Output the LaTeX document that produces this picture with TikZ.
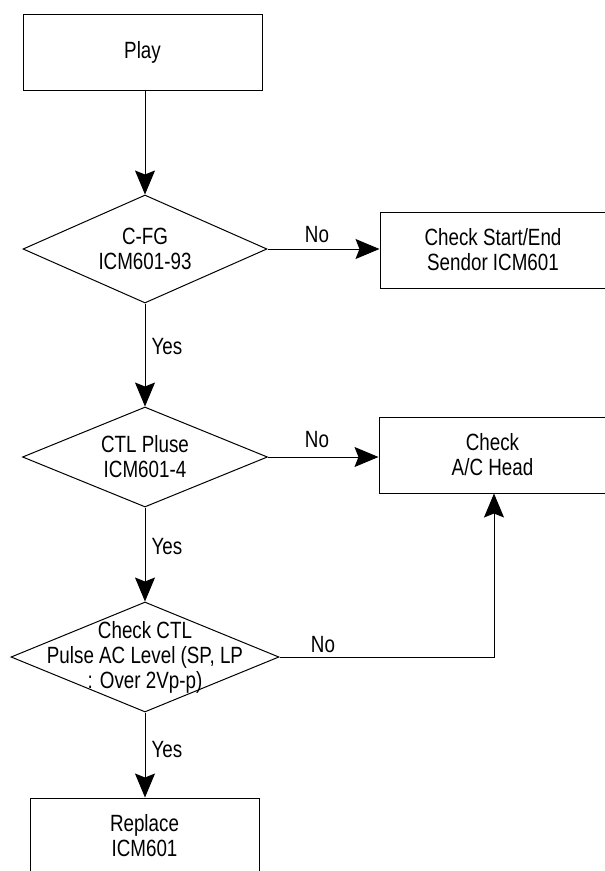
\documentclass[tikz,border=0pt]{standalone}
\usepackage{fontspec}
\setmainfont{Liberation Sans}[FakeStretch=0.8]
\usetikzlibrary{shapes,arrows,positioning}
\usetikzlibrary{arrows.meta}

\begin{document}
\begin{tikzpicture}[
    x=1pt, y=-1pt,
    font=\fontsize{23.5}{25}\selectfont,
    block/.style={draw=black, rectangle, line width=1pt, minimum height=76pt, align=center, inner sep=0pt},
    decision/.style={draw=black, diamond, line width=1pt, shape aspect=2.4, inner sep=-20pt, align=center},
    arrow/.style={-{Stealth[length=24pt, width=20pt, inset=4pt]}, line width=1pt, draw=black},
    answer/.style={inner sep=0pt}
]
\useasboundingbox (0,0) rectangle (605,871);

% ====================
%     Main Column
% ====================

% Nodes
\node[block, minimum width=239pt] (play) at (142.5, 52) {Play};
\node[decision, minimum width=244pt, minimum height=108pt] (cfg) at (145, 249) {C-FG\\ICM601-93};
\node[decision, minimum width=245pt, minimum height=100pt] (ctl) at (145, 457) {CTL Pluse\\ICM601-4};
\node[decision, minimum width=268pt, minimum height=110pt] (level) at (145, 657) {Check CTL\\Pulse AC Level (SP, LP\\: Over 2Vp-p)};
\node[block, minimum width=229pt] (replace) at (144.5, 836) {Replace\\ICM601};

% Connections
\draw[arrow] (play.south -| cfg.north) -- (cfg.north);
\draw[arrow] (cfg.south) -- (ctl.north);
\draw[arrow] (ctl.south) -- (level.north);
\draw[arrow] (level.south) -- (replace.north -| level.south);

% Labels
\node[answer] (yes1) at (167, 347) {Yes};
\node[answer] (yes2) at (167, 547) {Yes};
\node[answer] (yes3) at (167, 750) {Yes};


% ====================
%     Check Boxes
% ====================

% Nodes
\node[block, minimum width=226pt] (sensor) at (493, 250) {Check Start/End\\Sendor ICM601};
\node[block, minimum width=227pt] (head) at (492.5, 455) {Check\\A/C Head};
\coordinate (corner) at (494, 657);

% Connections
\draw[arrow] (cfg.east) -- (cfg.east -| sensor.west);
\draw[arrow] (ctl.east) -- (ctl.east -| head.west);
\draw[arrow] (level.east) -- (corner) -- (corner |- head.south);

% Labels
\node[answer] (no1) at (317, 235) {No};
\node[answer] (no2) at (317, 440) {No};
\node[answer] (no3) at (323, 645) {No};

\end{tikzpicture}
\end{document}
